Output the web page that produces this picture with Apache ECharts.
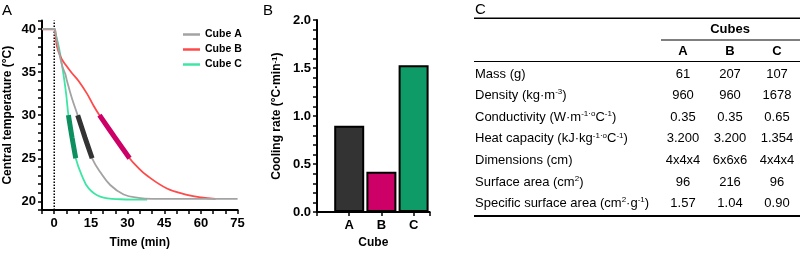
<!DOCTYPE html>
<html>
<head>
<meta charset="utf-8">
<script src="https://cdn.jsdelivr.net/npm/echarts@6/dist/echarts.min.js"></script>
<style>
  html, body { margin: 0; padding: 0; background: #fff; }
  #chart { width: 800px; height: 254px; }
</style>
</head>
<body>
<div id="chart"></div>
<script>
// Panel A: central temperature curves, [time (min), temperature (°C)]
const cubeNames = ['Cube A', 'Cube B', 'Cube C'];
const curveA = [[-5, 40], [0.2, 40], [0.5, 39.6], [1.5, 38.1], [2.5, 36.6], [3.5, 35.5], [4.5, 34.8], [5.2, 34.0], [7.2, 32.0], [9.6, 30], [12.6, 27.4], [15.5, 25], [18.8, 23.4], [22.9, 21.9], [28.4, 20.8], [34.5, 20.4], [40, 20.3], [75, 20.3]];
const curveB = [[-5, 39.95], [0.2, 39.95], [0.5, 39.4], [1.1, 38.0], [2.7, 36.7], [4.5, 35.9], [7.2, 34.9], [9.9, 34.0], [13.4, 32.5], [16.1, 31.1], [18.5, 30], [24.6, 27.5], [30.8, 25], [34, 24.0], [37.9, 23.0], [46.1, 21.5], [54.3, 20.75], [60, 20.45], [66, 20.3]];
const curveC = [[-5, 40], [0.2, 40], [0.5, 39.5], [1.5, 38.4], [2.5, 37.0], [3.8, 34.7], [4.9, 32.4], [5.8, 30], [7.3, 27.4], [8.8, 25], [11.3, 23.0], [14.1, 21.5], [18.8, 20.55], [27, 20.25], [38, 20.2]];
const startLine = [[0, 19], [0, 41]];

// Panel B: cooling rate (°C·min-1)
const barCubes = ['A', 'B', 'C'];
const coolingRate = [0.9, 0.42, 1.53];

// Panel C: table
const rowLabels = [
  'Mass (g)',
  'Density (kg·m{sup|-3})',
  'Conductivity (W·m{sup|-1·o}C{sup|-1})',
  'Heat capacity (kJ·kg{sup|-1·o}C{sup|-1})',
  'Dimensions (cm)',
  'Surface area (cm{sup|2})',
  'Specific surface area (cm{sup|2}·g{sup|-1})'
];
const valuesA = ['61', '960', '0.35', '3.200', '4x4x4', '96', '1.57'];
const valuesB = ['207', '960', '0.35', '3.200', '6x6x6', '216', '1.04'];
const valuesC = ['107', '1678', '0.65', '1.354', '4x4x4', '96', '0.90'];

const lineColors = ['#a3a3a3', '#ff4a4a', '#3ee6a4'];
const segColors = ['#333333', '#cc0066', '#0d8f5f'];
const barColors = ['#333333', '#cc0066', '#0f9b68'];

const FONT = 'Liberation Sans, Arial, sans-serif';
const chart = echarts.init(document.getElementById('chart'), null, { renderer: 'canvas' });

// keep the part of a curve between 25 and 30 °C
const segment = (d) => d.filter(p => p[1] <= 30.001 && p[1] >= 24.999);

const axisBlack = () => ({ show: true, onZero: false, lineStyle: { color: '#000', width: 2 } });
const tickBlack = () => ({ show: true, inside: false, length: 4, lineStyle: { color: '#000', width: 1.5 } });
const labelBold = { color: '#000', fontWeight: 'bold', fontSize: 13, fontFamily: FONT };
const nameBold = { color: '#000', fontWeight: 'bold', fontSize: 12, fontFamily: FONT };

const curves = [curveA, curveB, curveC];
const series = [{
  name: 'start', type: 'line', xAxisIndex: 0, yAxisIndex: 0, data: startLine,
  showSymbol: false, symbol: 'none', silent: true,
  lineStyle: { color: '#000', width: 1.5, type: 'dotted' }, z: 1
}];
curves.forEach((d, i) => {
  series.push({
    name: cubeNames[i], type: 'line', xAxisIndex: 0, yAxisIndex: 0,
    data: d, showSymbol: false, smooth: 0.4,
    lineStyle: { color: lineColors[i], width: 1.8 }, itemStyle: { color: lineColors[i] },
    z: 4 - i
  });
});
curves.forEach((d, i) => {
  series.push({
    name: cubeNames[i] + ' fit', type: 'line', xAxisIndex: 0, yAxisIndex: 0,
    data: segment(d), showSymbol: false, smooth: 0.4,
    lineStyle: { color: segColors[i], width: 5 }, z: 6
  });
});
series.push({
  type: 'bar', xAxisIndex: 1, yAxisIndex: 1, barWidth: 30,
  data: barCubes.map((c, i) => ({ value: [i + 1, coolingRate[i]], itemStyle: { color: barColors[i] } })),
  itemStyle: { borderColor: '#000', borderWidth: 2 }
});

// table graphics
const graphics = [
  { type: 'text', x: 2, y: 3, style: { text: 'A', font: '15px ' + FONT, fill: '#000' } },
  { type: 'text', x: 263, y: 3, style: { text: 'B', font: '15px ' + FONT, fill: '#000' } },
  { type: 'text', x: 475, y: 2, style: { text: 'C', font: '15px ' + FONT, fill: '#000' } },
  { type: 'line', shape: { x1: 474, y1: 18.3, x2: 800, y2: 18.3 }, style: { stroke: '#000', lineWidth: 1.6 } },
  { type: 'line', shape: { x1: 661, y1: 40, x2: 800, y2: 40 }, style: { stroke: '#000', lineWidth: 1.2 } },
  { type: 'line', shape: { x1: 474, y1: 61.5, x2: 800, y2: 61.5 }, style: { stroke: '#000', lineWidth: 1.2 } },
  { type: 'line', shape: { x1: 474, y1: 216, x2: 800, y2: 216 }, style: { stroke: '#000', lineWidth: 2 } },
  { type: 'text', x: 730, y: 29.5, style: { text: 'Cubes', font: 'bold 13px ' + FONT, fill: '#000', align: 'center', verticalAlign: 'middle' } }
];
const colX = [683, 730, 777];
barCubes.forEach((c, j) => {
  graphics.push({ type: 'text', x: colX[j], y: 51, style: { text: c, font: 'bold 13px ' + FONT, fill: '#000', align: 'center', verticalAlign: 'middle' } });
});
const supStyle = { fontSize: 8, fontFamily: FONT, fill: '#000', verticalAlign: 'top', lineHeight: 15 };
rowLabels.forEach((lab, r) => {
  const y = 74 + r * 21.63;
  graphics.push({ type: 'text', x: 475, y: y, style: {
    text: lab, fontSize: 13, fontFamily: FONT, fill: '#000', verticalAlign: 'middle', lineHeight: 15,
    rich: { sup: supStyle }
  } });
  [valuesA, valuesB, valuesC].forEach((vals, j) => {
    graphics.push({ type: 'text', x: colX[j], y: y, style: { text: vals[r], font: '13px ' + FONT, fill: '#000', align: 'center', verticalAlign: 'middle' } });
  });
});

chart.setOption({
  animation: false,
  backgroundColor: '#fff',
  textStyle: { fontFamily: FONT },
  legend: {
    data: cubeNames, orient: 'vertical', left: 178, top: 24,
    icon: 'rect', itemWidth: 17, itemHeight: 2.5, itemGap: 4,
    textStyle: { color: '#000', fontWeight: 'bold', fontSize: 10.5, fontFamily: FONT }
  },
  grid: [
    { left: 42, top: 20.4, width: 195.6, height: 195.2 },
    { left: 317, top: 20, width: 112.7, height: 195 }
  ],
  xAxis: [
    {
      type: 'value', gridIndex: 0, min: -5, max: 75, interval: 5,
      axisLine: axisBlack(), axisTick: tickBlack(), splitLine: { show: false },
      axisLabel: Object.assign({ margin: 7, showMinLabel: true, showMaxLabel: true,
        formatter: v => (v >= 0 && v % 15 === 0) ? String(v) : '' }, labelBold),
      name: 'Time (min)', nameLocation: 'middle', nameGap: 27, nameTextStyle: nameBold
    },
    {
      type: 'value', gridIndex: 1, min: 0, max: 3.5, interval: 1,
      axisLine: axisBlack(), axisTick: tickBlack(), splitLine: { show: false },
      axisLabel: Object.assign({ margin: 7, formatter: v => barCubes[v - 1] || '' }, labelBold),
      name: 'Cube', nameLocation: 'middle', nameGap: 24, nameTextStyle: nameBold
    }
  ],
  yAxis: [
    {
      type: 'value', gridIndex: 0, min: 19, max: 41, interval: 1,
      axisLine: axisBlack(), axisTick: tickBlack(), splitLine: { show: false },
      axisLabel: Object.assign({ margin: 6, showMinLabel: true, showMaxLabel: true,
        formatter: v => (v % 5 === 0 && v >= 20 && v <= 40) ? String(v) : '' }, labelBold),
      name: 'Central temperature (°C)', nameLocation: 'middle', nameGap: 28, nameTextStyle: nameBold
    },
    {
      type: 'value', gridIndex: 1, min: 0, max: 2, interval: 0.1,
      axisLine: axisBlack(), axisTick: tickBlack(), splitLine: { show: false },
      axisLabel: Object.assign({ margin: 6, showMinLabel: true, showMaxLabel: true,
        formatter: v => Math.abs(v * 2 - Math.round(v * 2)) < 1e-6 ? v.toFixed(1) : '' }, labelBold),
      name: 'Cooling rate (°C·min{sup|-1})', nameLocation: 'middle', nameGap: 34,
      nameTextStyle: Object.assign({ rich: { sup: { fontSize: 8, fontWeight: 'bold', fontFamily: FONT, color: '#000', verticalAlign: 'top' } } }, nameBold)
    }
  ],
  series: series,
  graphic: graphics
});
</script>
</body>
</html>
